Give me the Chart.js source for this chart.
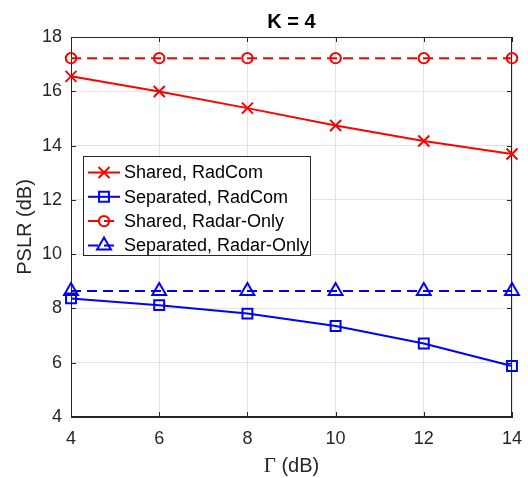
<!DOCTYPE html>
<html>
<head>
<meta charset="utf-8">
<script src="https://cdn.jsdelivr.net/npm/chart.js@4.4.1/dist/chart.umd.min.js"></script>
<style>
  html, body { margin: 0; padding: 0; background: #ffffff; }
  #wrap { width: 528px; height: 478px; }
</style>
</head>
<body>
<div id="wrap"><canvas id="c" width="528" height="478"></canvas></div>
<script>
// ---- Data ----
const gammaDb = [4, 6, 8, 10, 12, 14];
const sharedRadCom = [16.55, 15.99, 15.38, 14.74, 14.17, 13.69];
const separatedRadCom = [8.37, 8.12, 7.81, 7.35, 6.71, 5.88];
const sharedRadarOnly = [17.22, 17.22, 17.22, 17.22, 17.22, 17.22];
const separatedRadarOnly = [8.64, 8.64, 8.64, 8.64, 8.64, 8.64];
const xTicks = [4, 6, 8, 10, 12, 14];
const yTicks = [4, 6, 8, 10, 12, 14, 16, 18];
const seriesLabels = ['Shared, RadCom', 'Separated, RadCom', 'Shared, Radar-Only', 'Separated, Radar-Only'];
const chartTitle = 'K = 4';
const xTitleSymbol = '\u0393';
const xTitleUnit = ' (dB)';
const yTitle = 'PSLR (dB)';

const FONT = '"Liberation Sans", Arial, Helvetica, sans-serif';
const SERIF = '"Liberation Serif", "DejaVu Serif", "Times New Roman", serif';
const AXIS_COLOR = '#262626';
const RED = '#ff0000';
const BLUE = '#0000ff';

function pts(ys) { return gammaDb.map((x, i) => ({ x: x, y: ys[i] })); }

function mkDataset(label, ys, color, style, radius, dashed) {
  return {
    label: label,
    data: pts(ys),
    borderColor: color,
    backgroundColor: 'rgba(0,0,0,0)',
    borderWidth: 2,
    borderDash: dashed ? [10, 6] : [],
    pointStyle: style,
    pointRadius: radius,
    pointHoverRadius: radius,
    pointBorderColor: color,
    pointBackgroundColor: 'rgba(0,0,0,0)',
    pointBorderWidth: 2,
    tension: 0,
    fill: false,
    clip: false
  };
}

const datasets = [
  mkDataset(seriesLabels[0], sharedRadCom, RED, 'crossRot', 7.8, false),
  mkDataset(seriesLabels[1], separatedRadCom, BLUE, 'rect', 7, false),
  mkDataset(seriesLabels[2], sharedRadarOnly, RED, 'circle', 5.2, true),
  mkDataset(seriesLabels[3], separatedRadarOnly, BLUE, 'triangle', 8, true)
];

function drawMarker(ctx, style, r, x, y) {
  ctx.beginPath();
  if (style === 'crossRot') {
    const d = r * Math.SQRT1_2;
    ctx.moveTo(x - d, y - d); ctx.lineTo(x + d, y + d);
    ctx.moveTo(x - d, y + d); ctx.lineTo(x + d, y - d);
  } else if (style === 'rect') {
    const d = r * Math.SQRT1_2;
    ctx.rect(x - d, y - d, 2 * d, 2 * d);
  } else if (style === 'circle') {
    ctx.arc(x, y, r, 0, Math.PI * 2);
  } else if (style === 'triangle') {
    ctx.moveTo(x, y - r);
    ctx.lineTo(x + r * Math.sin(2 * Math.PI / 3), y - r * Math.cos(2 * Math.PI / 3));
    ctx.lineTo(x + r * Math.sin(4 * Math.PI / 3), y - r * Math.cos(4 * Math.PI / 3));
    ctx.closePath();
  }
  ctx.stroke();
}

const decorPlugin = {
  id: 'matlabDecor',
  beforeDatasetsDraw(chart) {
    const ctx = chart.ctx;
    const a = chart.chartArea;
    const xs = chart.scales.x, ys = chart.scales.y;
    ctx.save();
    ctx.strokeStyle = AXIS_COLOR;
    ctx.lineWidth = 1;
    ctx.setLineDash([]);
    ctx.strokeRect(a.left + 0.5, a.top + 0.5, a.right - a.left - 1, a.bottom - a.top - 1);
    const tl = 5;
    ctx.beginPath();
    xTicks.forEach(v => {
      const px = Math.round(xs.getPixelForValue(v)) + 0.5;
      ctx.moveTo(px, a.bottom); ctx.lineTo(px, a.bottom - tl);
      ctx.moveTo(px, a.top); ctx.lineTo(px, a.top + tl);
    });
    yTicks.forEach(v => {
      const py = Math.round(ys.getPixelForValue(v)) + 0.5;
      ctx.moveTo(a.left, py); ctx.lineTo(a.left + tl, py);
      ctx.moveTo(a.right, py); ctx.lineTo(a.right - tl, py);
    });
    ctx.stroke();
    ctx.restore();
  },
  afterDraw(chart) {
    const ctx = chart.ctx;
    const a = chart.chartArea;
    const cx = (a.left + a.right) / 2;
    ctx.save();
    // title
    ctx.fillStyle = '#000000';
    ctx.font = 'bold 20px ' + FONT;
    ctx.textAlign = 'center';
    ctx.textBaseline = 'middle';
    ctx.fillText(chartTitle, cx, 22);

    // x-axis title: serif Gamma + sans unit
    ctx.fillStyle = AXIS_COLOR;
    ctx.textAlign = 'left';
    ctx.textBaseline = 'alphabetic';
    ctx.font = '21px ' + SERIF;
    const w1 = ctx.measureText(xTitleSymbol).width;
    ctx.font = '20px ' + FONT;
    const w2 = ctx.measureText(xTitleUnit).width;
    const x0 = cx - (w1 + w2) / 2;
    const base = 472;
    ctx.font = '21px ' + SERIF;
    ctx.fillText(xTitleSymbol, x0, base);
    ctx.font = '20px ' + FONT;
    ctx.fillText(xTitleUnit, x0 + w1, base);

    // legend
    const lx = 83.5, ly = 156.5, lw = 227, lh = 99;
    ctx.fillStyle = '#ffffff';
    ctx.fillRect(lx, ly, lw, lh);
    ctx.strokeStyle = AXIS_COLOR;
    ctx.lineWidth = 1;
    ctx.setLineDash([]);
    ctx.strokeRect(lx, ly, lw, lh);
    const rowY0 = 172.5, rowStep = 24.3;
    chart.data.datasets.forEach((ds, i) => {
      const y = rowY0 + i * rowStep;
      ctx.strokeStyle = ds.borderColor;
      ctx.lineWidth = 2;
      ctx.setLineDash(ds.borderDash || []);
      ctx.beginPath();
      ctx.moveTo(88, y); ctx.lineTo(120, y);
      ctx.stroke();
      ctx.setLineDash([]);
      drawMarker(ctx, ds.pointStyle, ds.pointRadius, 104, y);
      ctx.fillStyle = '#000000';
      ctx.font = '18px ' + FONT;
      ctx.textAlign = 'left';
      ctx.textBaseline = 'middle';
      ctx.fillText(ds.label, 124, y + 1);
    });
    ctx.restore();
  }
};

new Chart(document.getElementById('c'), {
  type: 'line',
  data: { datasets: datasets },
  options: {
    responsive: false,
    devicePixelRatio: 1,
    animation: false,
    layout: { padding: { left: 0, right: 16, top: 37, bottom: 0 } },
    plugins: {
      legend: { display: false },
      title: { display: false },
      tooltip: { enabled: false }
    },
    scales: {
      x: {
        type: 'linear',
        min: 4, max: 14,
        afterFit(scale) { scale.height = 61; scale.paddingLeft = 0; scale.paddingRight = 0; },
        afterBuildTicks(scale) { scale.ticks = xTicks.map(v => ({ value: v })); },
        ticks: { color: AXIS_COLOR, font: { family: FONT, size: 18 }, padding: 11, maxRotation: 0 },
        grid: { color: '#e3e3e3', lineWidth: 1, drawTicks: false },
        border: { display: true, color: AXIS_COLOR, width: 1 },
        title: { display: false }
      },
      y: {
        type: 'linear',
        min: 4, max: 18,
        afterFit(scale) { scale.width = 71; scale.paddingTop = 0; scale.paddingBottom = 0; },
        afterBuildTicks(scale) { scale.ticks = yTicks.map(v => ({ value: v })); },
        ticks: { color: AXIS_COLOR, font: { family: FONT, size: 18 }, padding: 9 },
        grid: { color: '#e3e3e3', lineWidth: 1, drawTicks: false },
        border: { display: true, color: AXIS_COLOR, width: 1 },
        title: { display: true, text: yTitle, color: AXIS_COLOR, font: { family: FONT, size: 20 }, padding: { top: 13, bottom: 0 } }
      }
    }
  },
  plugins: [decorPlugin]
});
</script>
</body>
</html>
